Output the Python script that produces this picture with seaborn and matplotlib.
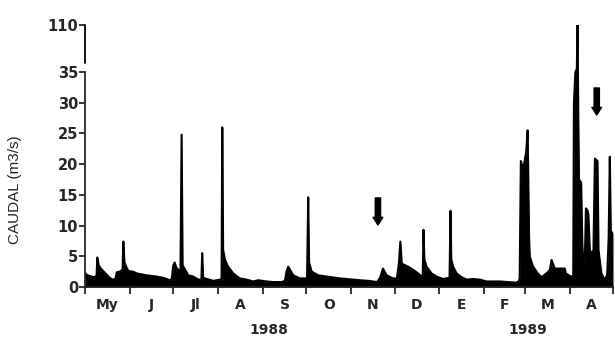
import numpy as np
import pandas as pd
import matplotlib
matplotlib.use("Agg")
import matplotlib.pyplot as plt
import seaborn as sns

# Daily discharge (days counted from 1 May 1988)
days = [0, 1, 3, 6, 8, 8.5, 9.5, 11, 13, 15,
        17, 19, 21, 22, 24, 26, 26.5, 27.3, 28.5, 30,
        33, 36, 42.6, 49.5, 54, 58.7, 60, 61, 62, 63,
        64.5, 66, 66.8, 67.5, 69, 71.4, 74.8, 78.3, 80.5, 81,
        81.7, 83, 88.7, 93.3, 94.4, 94.9, 95.5, 96.8, 99, 102.5, 107,
        111.7, 116.3, 119.8, 125.6, 130, 136, 138.2, 139.3, 140.5, 144,
        148.6, 153.5, 154.3, 154.9, 156.7, 161.2, 167, 176.2, 185.4, 190, 196,
        202, 204, 206, 208.5, 213, 215.6, 217, 218, 219, 223.4,
        226.9, 230.3, 232.7, 233.5, 234, 234.6, 236.1, 239.6, 243, 247.6, 252,
        252.7, 253.2, 254.5, 256.9, 260.3, 263.8, 268.3, 273, 277.6, 286.8, 298.3,
        300, 300.5, 301.3, 302.5, 303.5, 305, 306, 307, 307.5, 309.8,
        313, 315.6, 319, 321.4, 322.5, 324.8, 331.7, 332.4, 335.2, 337.5,
        338, 339, 340, 340.5, 341, 341.5, 343, 343.8, 344.5, 345.5,
        346.3, 347.3, 348, 349, 350.2, 351.5, 352.5, 354.3, 355, 357,
        359.4, 361, 362, 362.8, 363.5, 365]
flow = [2.3, 2.0, 1.8, 1.6, 1.8, 4.8, 3.5, 3.0, 2.5, 2.0,
        1.5, 1.2, 1.3, 2.4, 2.5, 2.8, 7.4, 4.0, 3.3, 2.6,
        2.5, 2.2, 1.9, 1.7, 1.5, 1.1, 1.3, 3.5, 4.0, 3.2,
        2.8, 2.6, 24.8, 3.5, 2.9, 1.9, 1.7, 1.2, 1.2, 5.5,
        1.5, 1.4, 1.0, 1.2, 1.3, 26.0, 6.0, 4.4, 3.3, 2.2, 1.4,
        1.2, 0.9, 1.1, 0.9, 0.8, 0.8, 1.0, 2.5, 3.3, 1.9,
        1.4, 1.4, 14.6, 4.0, 2.5, 1.9, 1.7, 1.4, 1.2, 1.1, 1.0,
        0.8, 1.5, 3.0, 1.9, 1.4, 1.4, 3.8, 7.4, 3.8, 3.3,
        2.8, 2.2, 1.7, 2.0, 9.3, 4.5, 3.3, 2.2, 1.7, 1.3, 1.5,
        12.4, 4.5, 3.3, 2.2, 1.6, 1.2, 1.3, 1.2, 0.9, 0.9, 0.7,
        1.0, 1.5, 20.5, 19.5, 20, 22, 25.5, 8.0, 4.9, 3.3,
        2.2, 1.6, 2.2, 2.8, 4.4, 3.0, 3.0, 2.2, 1.8, 1.6,
        30, 35, 40, 110, 28, 17.5, 17, 7, 3.9, 4,
        12.8, 12.5, 11.8, 6, 5.5, 6, 20.9, 20.5, 6, 2.2,
        1.1, 2, 8, 21.2, 9, 8.8]

month_labels = ["My", "J", "Jl", "A", "S", "O", "N", "D", "E", "F", "M", "A"]
y_ticks = [0, 5, 10, 15, 20, 25, 30, 35, 110]
years = ["1988", "1989"]
year_dates = ["1988-09-05", "1989-03-03"]
# sampling dates marked with arrows: (date, tail, tip)
arrow_dates = ["1988-11-19 12:00", "1989-04-19 18:00"]
arrow_tail = [14.5, 32.4]
arrow_tip = [10.1, 28.0]

start = pd.Timestamp("1988-05-01")
dates = start + pd.to_timedelta(days, unit="D")
df = pd.DataFrame({"fecha": dates, "caudal": flow})

# broken axis: linear up to 35, compressed above
BREAK, K = 35.0, 0.102


def fwd(y):
    y = np.asarray(y, dtype=float)
    return np.where(y <= BREAK, y, BREAK + (y - BREAK) * K)


def inv(t):
    t = np.asarray(t, dtype=float)
    return np.where(t <= BREAK, t, BREAK + (t - BREAK) / K)


sns.set_style("ticks")
plt.rcParams["font.family"] = ["DejaVu Sans"]

fig = plt.figure(figsize=(6.15, 3.4), dpi=100)
ax = fig.add_axes([85 / 615, 53 / 340, 528 / 615, 262 / 340])
ax.set_yscale("function", functions=(fwd, inv))

ax.fill_between(df["fecha"], 0, df["caudal"], color="black", lw=0)
sns.lineplot(data=df, x="fecha", y="caudal", estimator=None, color="black",
             lw=1.5, ax=ax)

ax.set_xlim(start, pd.Timestamp("1989-05-01"))
ax.set_ylim(0, 110)

# month ticks
month_starts = pd.date_range("1988-05-01", "1989-05-01", freq="MS")
mids = month_starts[:-1] + (month_starts[1:] - month_starts[:-1]) / 2
ax.set_xticks(month_starts)
ax.set_xticklabels([""] * len(month_starts))
ax.set_xticks(mids, minor=True)
ax.set_xticklabels(month_labels, minor=True, fontsize=10, fontweight="bold")
ax.tick_params(axis="x", which="major", length=5, width=1.3, direction="out")
ax.tick_params(axis="x", which="minor", length=0, pad=8)

ax.set_yticks(y_ticks)
ax.set_yticklabels([str(v) for v in y_ticks], fontsize=10.5, fontweight="bold")
ax.yaxis.set_minor_locator(matplotlib.ticker.NullLocator())
ax.tick_params(axis="y", length=4, width=1.3, pad=1, direction="out")

ax.set_xlabel("")
ax.set_ylabel("")

sns.despine(ax=ax)
for side in ["left", "bottom"]:
    ax.spines[side].set_linewidth(1.3)
ax.spines["left"].set_bounds(0, 35)
ax.plot([0, 0], [49, 110], transform=ax.get_yaxis_transform(), color="black",
        lw=1.3, clip_on=False)

for yr, d in zip(years, year_dates):
    ax.text(pd.Timestamp(d), -0.165, yr, transform=ax.get_xaxis_transform(),
            ha="center", va="center", fontsize=10, fontweight="bold")

for d, tail, tip in zip(arrow_dates, arrow_tail, arrow_tip):
    ax.annotate("", xy=(pd.Timestamp(d), tip), xytext=(pd.Timestamp(d), tail),
                arrowprops=dict(arrowstyle="simple,head_length=0.55,head_width=0.7,tail_width=0.38",
                                color="black", shrinkA=0, shrinkB=0))

fig.text(15 / 615, 0.441, "CAUDAL (m3/s)", rotation=90, ha="center", va="center",
         fontsize=11, family=["Liberation Sans", "DejaVu Sans"])

fig.savefig("out.png", dpi=100)
